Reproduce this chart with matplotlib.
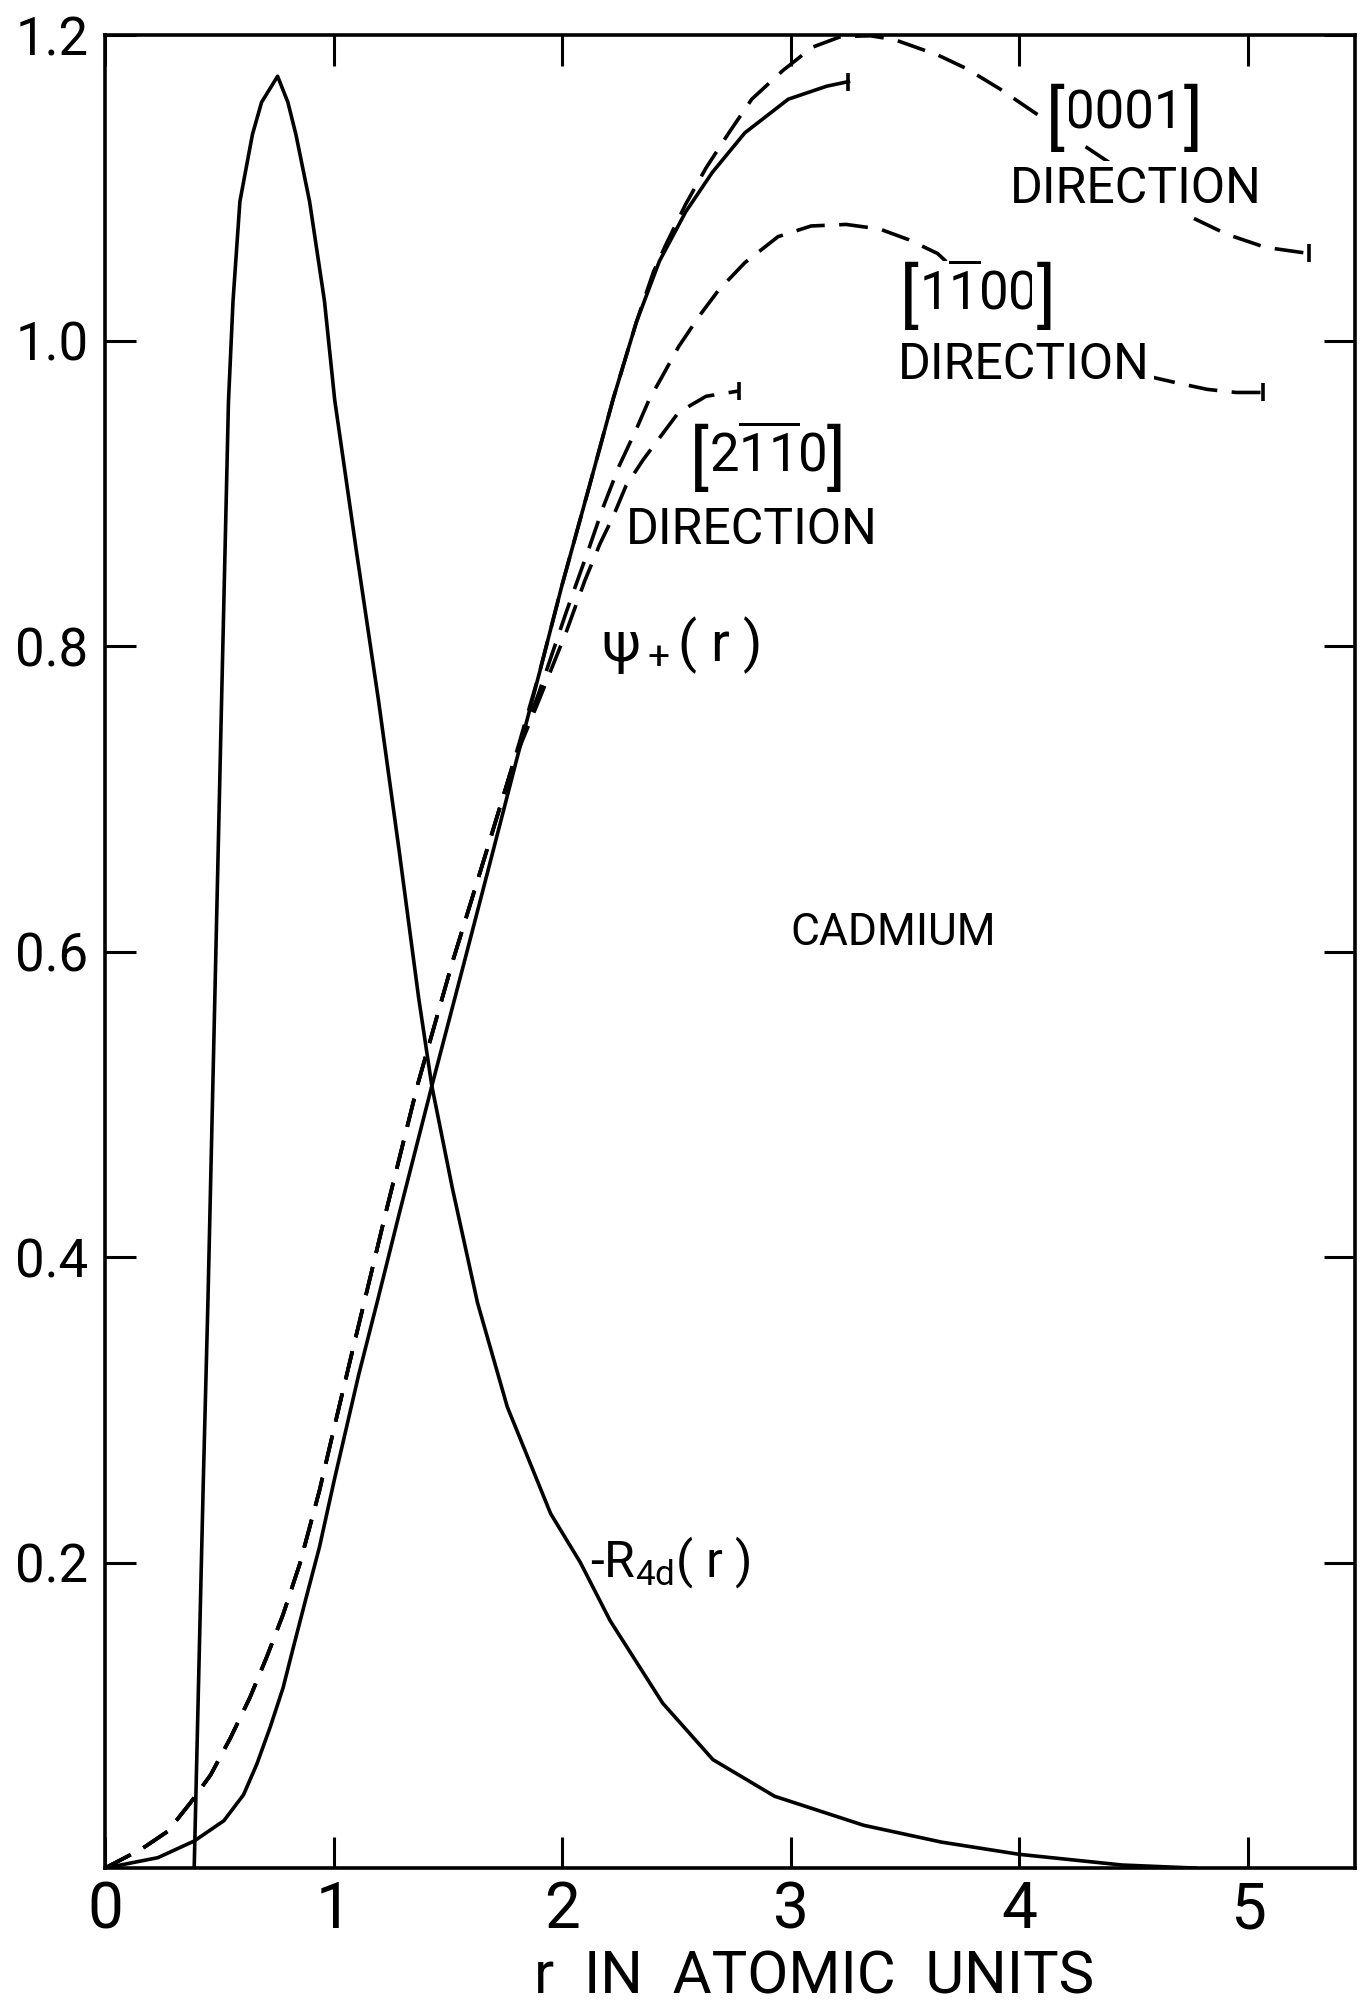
import numpy as np
import matplotlib
matplotlib.use('Agg')
import matplotlib.pyplot as plt
from matplotlib import font_manager

# values, r in atomic units
r4d_r = [0.39, 0.43, 0.45, 0.51, 0.54, 0.56, 0.59, 0.645, 0.685, 0.755, 0.80, 0.835, 0.895, 0.96,
         1.005, 1.10, 1.196, 1.287, 1.372, 1.43, 1.52, 1.63, 1.76, 1.95, 2.08, 2.21, 2.44, 2.66,
         2.93, 3.32, 3.66, 4.00, 4.45, 4.77]
r4d_v = [0.0, 0.254, 0.37, 0.765, 0.96, 1.026, 1.091, 1.135, 1.156, 1.173, 1.156, 1.135, 1.091,
         1.026, 0.961, 0.862, 0.765, 0.666, 0.57, 0.512, 0.445, 0.37, 0.302, 0.232, 0.200, 0.162,
         0.108, 0.071, 0.047, 0.028, 0.017, 0.009, 0.002, 0.0]

psi_r = [0.0, 0.231, 0.39, 0.52, 0.606, 0.664, 0.722, 0.779, 0.823, 0.88, 0.938, 1.003, 1.11,
         1.195, 1.29, 1.43, 1.57, 1.70, 1.80, 1.90, 2.00, 2.12, 2.224, 2.325, 2.426, 2.54, 2.657,
         2.80, 2.99, 3.158, 3.253]
psi_v = [0.0, 0.0068, 0.0177, 0.031, 0.048, 0.068, 0.092, 0.118, 0.144, 0.177, 0.21, 0.254, 0.323,
         0.373, 0.43, 0.512, 0.592, 0.667, 0.725, 0.782, 0.84, 0.905, 0.962, 1.012, 1.052, 1.084,
         1.110, 1.136, 1.158, 1.1665, 1.1695]

# the three dashed curves share the same lower part
low_r = [0.0, 0.159, 0.274, 0.375, 0.462, 0.548, 0.635, 0.707, 0.779, 0.852, 0.938, 1.01, 1.08,
         1.135, 1.23, 1.37, 1.52, 1.67, 1.79]
low_v = [0.0, 0.0124, 0.024, 0.043, 0.061, 0.085, 0.112, 0.138, 0.166, 0.199, 0.247, 0.293, 0.337,
         0.371, 0.43, 0.514, 0.593, 0.666, 0.725]

d0001_r = [1.90, 2.00, 2.12, 2.224, 2.325, 2.40, 2.455, 2.54, 2.63, 2.73, 2.83, 2.968, 3.095,
           3.22, 3.35, 3.454, 3.643, 3.77, 3.918, 4.065, 4.75, 4.91, 5.078, 5.268]
d0001_v = [0.782, 0.84, 0.905, 0.962, 1.012, 1.045, 1.063, 1.089, 1.113, 1.136, 1.158, 1.177,
           1.192, 1.199, 1.1995, 1.197, 1.187, 1.178, 1.1645, 1.1495, 1.081, 1.0695, 1.061, 1.057]

d1100_r = [1.90, 2.02, 2.12, 2.18, 2.25, 2.325, 2.38, 2.44, 2.51, 2.60, 2.685, 2.80, 2.945, 3.09,
           3.243, 3.39, 3.517, 3.643, 3.686, 4.20, 4.582, 4.698, 4.825, 4.95, 5.067]
d1100_v = [0.77, 0.823, 0.865, 0.891, 0.918, 0.942, 0.961, 0.977, 0.996, 1.016, 1.033, 1.051,
           1.068, 1.075, 1.076, 1.073, 1.066, 1.057, 1.051, 1.002, 0.976, 0.972, 0.968, 0.966, 0.966]

d2110_r = [1.90, 2.02, 2.10, 2.166, 2.224, 2.28, 2.355, 2.43, 2.51, 2.63, 2.775]
d2110_v = [0.765, 0.81, 0.843, 0.867, 0.885, 0.905, 0.922, 0.937, 0.953, 0.9635, 0.967]

x_ticks = [0, 1, 2, 3, 4, 5]
y_ticks = [0.2, 0.4, 0.6, 0.8, 1.0, 1.2]
y_labels = ['0.2', '0.4', '0.6', '0.8', '1.0', '1.2']

installed = {f.name for f in font_manager.fontManager.ttflist}
font = 'Roboto' if 'Roboto' in installed else 'DejaVu Sans'

plt.rcParams['font.family'] = [font, 'DejaVu Sans']
plt.rcParams['mathtext.fontset'] = 'custom'
plt.rcParams['mathtext.rm'] = font
plt.rcParams['mathtext.it'] = font
plt.rcParams['mathtext.sf'] = font

lw = 2.6
fig = plt.figure(figsize=(13.61, 20.13), dpi=100)
ax = fig.add_axes([0.0772, 0.072, 0.9184, 0.9106])

ax.plot(r4d_r, r4d_v, color='black', lw=lw, solid_joinstyle='round')
ax.plot(psi_r, psi_v, color='black', lw=lw, solid_joinstyle='round', marker='|',
        markevery=[len(psi_r) - 1], markersize=13, markeredgewidth=lw)

for br, bv in [(d0001_r, d0001_v), (d1100_r, d1100_v), (d2110_r, d2110_v)]:
    xs = np.concatenate([low_r, br])
    ys = np.concatenate([low_v, bv])
    ax.plot(xs, ys, color='black', lw=lw, dashes=(8, 4))
    ax.plot(xs[-1:], ys[-1:], color='black', marker='|', markersize=13,
            markeredgewidth=lw, linestyle='none')

ax.set_xlim(0, 5.47)
ax.set_ylim(0, 1.2)
ax.set_xticks(x_ticks)
ax.set_xticklabels([str(t) for t in x_ticks])
ax.set_yticks(y_ticks)
ax.set_yticklabels(y_labels)
ax.tick_params(direction='in', length=22, width=2.2, top=True, right=True)
ax.tick_params(axis='x', labelsize=46, pad=8)
ax.tick_params(axis='y', labelsize=38, pad=12)
for s in ax.spines.values():
    s.set_linewidth(2.6)

ax.set_xlabel('r  IN  ATOMIC  UNITS', fontsize=43)
ax.xaxis.set_label_coords(0.567, -0.044)
ax.xaxis.label.set_va('top')

box = dict(facecolor='white', edgecolor='none', pad=3)


def bracket_label(x, y, inner, size, bbox=None):
    # digits first, then tall brackets on both sides of them
    t = ax.text(x, y, inner, fontsize=size, ha='center', va='center', bbox=bbox)
    fig.canvas.draw()
    bb = t.get_window_extent().transformed(ax.transData.inverted())
    kw = dict(fontsize=size * 1.35, va='center', bbox=bbox)
    ax.text(bb.x0, y - 0.004, '[', ha='right', **kw)
    ax.text(bb.x1, y - 0.004, ']', ha='left', **kw)


bracket_label(4.46, 1.148, '0001', 38, box)
ax.text(4.51, 1.099, 'DIRECTION', fontsize=36, ha='center', va='center', bbox=box)
bracket_label(3.82, 1.031, r'1$\overline{\mathregular{1}}$00', 38, box)
ax.text(4.02, 0.984, 'DIRECTION', fontsize=36, ha='center', va='center', bbox=box)
bracket_label(2.90, 0.925, r'2$\overline{\mathregular{1}}\overline{\mathregular{1}}$0', 38)
ax.text(2.83, 0.876, 'DIRECTION', fontsize=36, ha='center', va='center')

ax.text(2.52, 0.801, r'$\mathregular{\psi_+}$( r )', fontsize=40, ha='center', va='center')
ax.text(3.45, 0.612, 'CADMIUM', fontsize=32, ha='center', va='center')
ax.text(2.12, 0.200, r'-R$_\mathregular{4d}$( r )', fontsize=36, ha='left', va='center')

fig.savefig('out.png', dpi=100)
